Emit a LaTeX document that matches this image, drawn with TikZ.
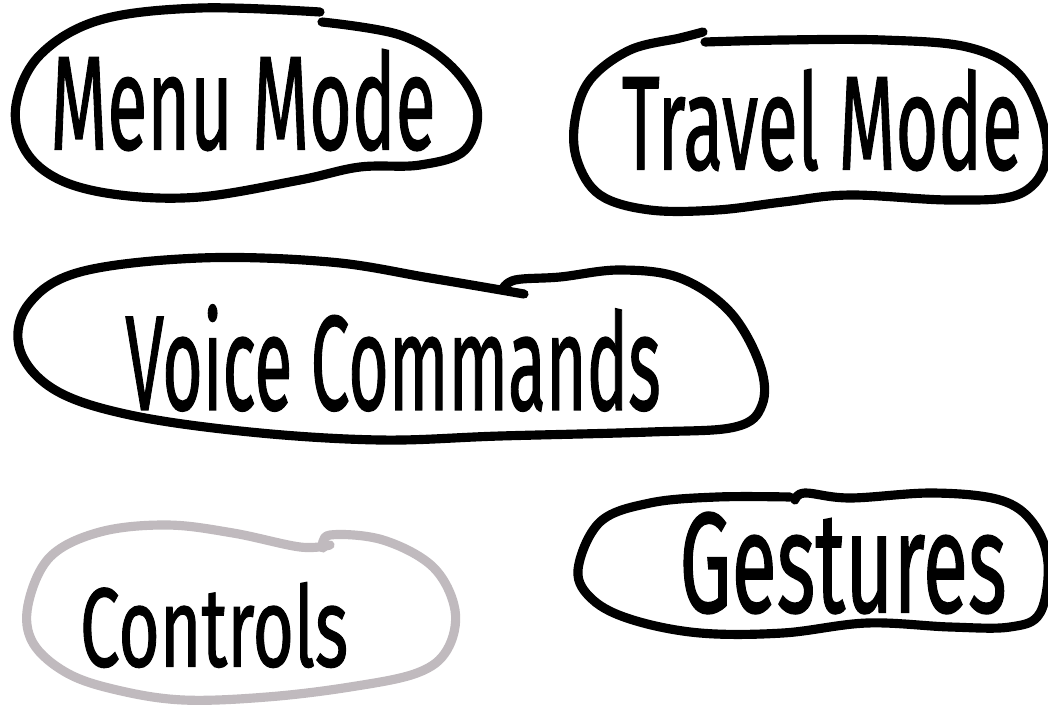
\documentclass[tikz,border=0pt]{standalone}
\usepackage{fontspec}
\setmainfont{Fira Sans}
\newfontfamily\handfont[FakeBold=1.2]{Fira Sans}
\usepackage{graphicx}
\definecolor{sketchgray}{RGB}{192,186,190}
\tikzset{
  blob/.style={line width=2.6pt, line cap=round, line join=round, draw=black},
  softblob/.style={blob, draw=sketchgray},
  lbl/.style={inner sep=0pt, anchor=center, text=black, font=\handfont}
}
\newcommand{\fitlabel}[3]{\resizebox{#1}{#2}{#3}}

\begin{document}
\begin{tikzpicture}[x=0.01cm,y=-0.01cm]
\useasboundingbox (0,0) rectangle (1048,706);
\fill[white] (0,0) rectangle (1048,706);

% labels
\node[lbl] (menu)     at (243,100) {\fitlabel{3.85cm}{1.0cm}{Menu Mode}};
\node[lbl] (travel)   at (822,120) {\fitlabel{4.0cm}{1.0cm}{Travel Mode}};
\node[lbl] (voice)    at (393,358) {\fitlabel{5.35cm}{1.05cm}{Voice Commands}};
\node[lbl] (controls) at (214,625) {\fitlabel{2.68cm}{0.84cm}{Controls}};
\node[lbl] (gestures) at (843,563) {\fitlabel{3.27cm}{1.0cm}{Gestures}};

% outlines, each drawn as one stroke that overlaps where it started
\draw[blob] plot[smooth, tension=0.6] coordinates {
  (322,22) (400,35) (450,65) (477,108) (465,150) (420,165) (360,167)
  (300,180) (200,197) (120,195) (60,180) (25,150) (16,105) (40,55)
  (100,20) (200,8) (320,12)};

\draw[blob] plot[smooth, tension=0.6] coordinates {
  (705,42) (783,40) (883,40) (967,47) (1017,72) (1042,120) (1045,165)
  (1017,195) (950,200) (850,195) (783,202) (717,210) (650,210) (600,195)
  (577,160) (575,120) (590,80) (630,50) (680,38) (703,32)};

\draw[blob] plot[smooth, tension=0.6] coordinates {
  (502,290) (515,280) (560,277) (620,270) (680,278) (730,312) (760,365)
  (762,405) (735,427) (650,432) (500,436) (380,440) (250,432) (130,415)
  (55,390) (20,350) (28,305) (80,272) (200,258) (330,262) (430,278) (524,294)};

\draw[softblob] plot[smooth, tension=0.6] coordinates {
  (323,548) (330,535) (383,540) (433,567) (455,610) (447,650) (417,673)
  (350,687) (267,697) (183,700) (117,690) (67,673) (33,643) (28,605)
  (50,557) (100,532) (167,525) (233,533) (300,547) (330,545)};

\draw[blob] plot[smooth, tension=0.6] coordinates {
  (795,500) (805,493) (850,498) (933,493) (1000,500) (1033,523) (1048,563)
  (1040,613) (1010,627) (950,627) (867,623) (783,633) (700,633) (633,620)
  (593,600) (578,570) (600,522) (650,503) (717,497) (790,497)};
\end{tikzpicture}
\end{document}
